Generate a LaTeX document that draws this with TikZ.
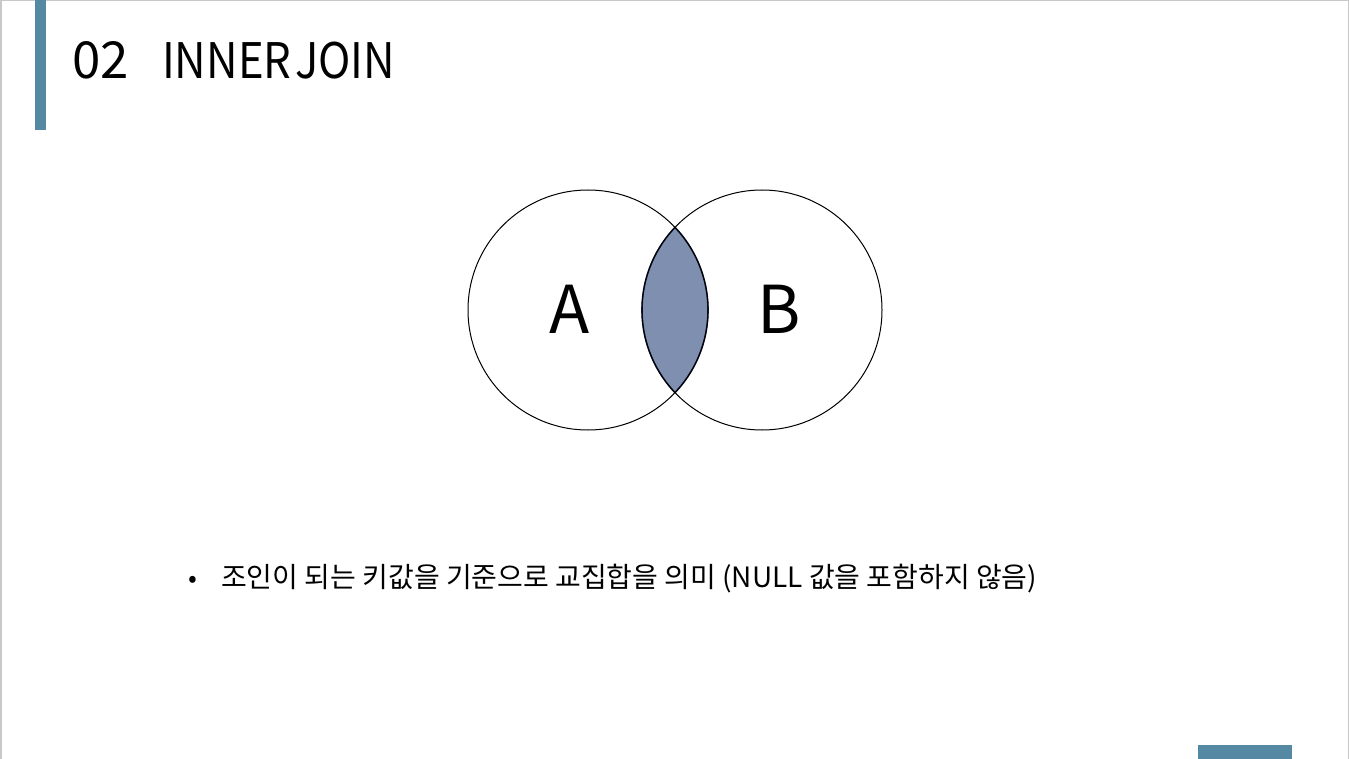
\documentclass[tikz,border=0pt]{standalone}
\usepackage{fontspec}
\setmainfont{Noto Sans CJK KR}
\definecolor{barblue}{RGB}{85,136,163}
\definecolor{lensfill}{RGB}{127,143,176}
\definecolor{lensedge}{RGB}{30,40,70}
\definecolor{frame}{RGB}{200,200,200}
\begin{document}
\begin{tikzpicture}[x=1pt,y=-1pt,
  setcircle/.style={draw=black,line width=1pt},
  biglabel/.style={font=\fontsize{66}{66}\selectfont,inner sep=0pt,anchor=base},
  bar/.style={fill=barblue,draw=none}]
\useasboundingbox (0,0) rectangle (1350,759);
\draw[frame,line width=1.5pt] (0.75,0.75) rectangle (1348.5,759.5);
\fill[barblue] (35,0) rectangle (46,130);
\fill[barblue] (1198,745) rectangle (1292,759);
\node[anchor=base west,inner sep=0pt,font=\fontsize{51}{51}\selectfont] (num) at (72,79) {02};
\node[anchor=base west,inner sep=0pt,font=\fontsize{49}{49}\selectfont\addfontfeature{FakeStretch=0.89}] (title) at (162,79) {INNER\hspace{-6pt} JOIN};
% lens
\begin{scope}
  \clip (588,310) circle (120);
  \fill[lensfill] (762,310) circle (120);
\end{scope}
\begin{scope}
  \clip (588,310) circle (120);
  \draw[lensedge,line width=1.6pt] (762,310) circle (120);
\end{scope}
\begin{scope}
  \clip (762,310) circle (120);
  \draw[lensedge,line width=1.6pt] (588,310) circle (120);
\end{scope}
\node[setcircle,circle,minimum size=240pt,inner sep=0pt] (cA) at (588,310) {};
\node[setcircle,circle,minimum size=240pt,inner sep=0pt] (cB) at (762,310) {};
\node[biglabel] (lA) at (570,334) {A};
\node[biglabel] (lB) at (779,334) {B};
\node[anchor=base west,inner sep=0pt,font=\fontsize{28}{28}\selectfont] (txt) at (221,587) {조인이 되는 키값을 기준으로 교집합을 의미 (NULL 값을 포함하지 않음)};
\node[anchor=base,inner sep=0pt,font=\fontsize{26}{26}\selectfont] (bul) at (193,587) {•};
\end{tikzpicture}
\end{document}
